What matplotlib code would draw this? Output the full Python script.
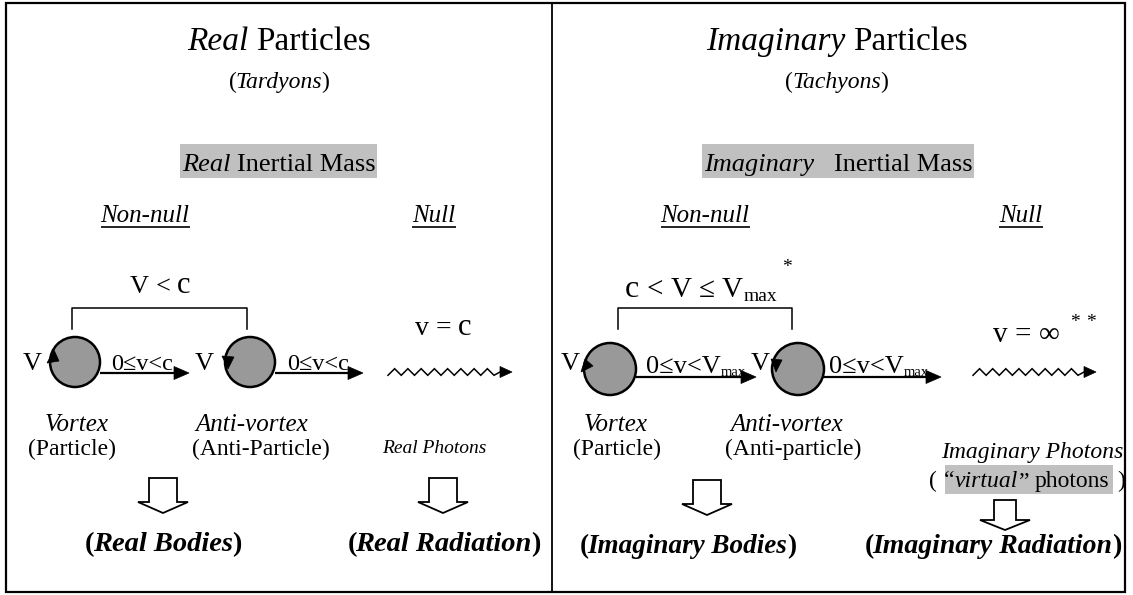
import matplotlib
matplotlib.use("Agg")
import matplotlib.pyplot as plt
from matplotlib.patches import Circle, Rectangle, Polygon
import numpy as np

W, H = 1133, 595
FONT = "Liberation Serif"

# ---- texts of the diagram ----
panel_titles = [("Real", "Particles"), ("Imaginary", "Particles")]
panel_subtitles = ["Tardyons", "Tachyons"]
mass_labels = [("Real", "Inertial Mass"), ("Imaginary", "Inertial Mass")]
class_labels = ["Non-null", "Null"]
left_speed = ("V", "<", "c")
right_speed = ("c", "<", "V", "\u2264", "V", "max")
null_speed = [("v", "=", "c"), ("v", "=", "\u221e")]
arrow_labels_left = "0\u2264v<c"
arrow_labels_right = ("0\u2264v<V", "max")
vortex_labels = ["Vortex", "Anti-vortex"]
particle_labels_left = ["(Particle)", "(Anti-Particle)"]
particle_labels_right = ["(Particle)", "(Anti-particle)"]
photon_labels = ["Real Photons", "Imaginary Photons"]
virtual_label = ("\u201c", "virtual", "\u201d", "photons")
body_labels = [("Real", "Bodies"), ("Imaginary", "Bodies")]
radiation_labels = [("Real", "Radiation"), ("Imaginary", "Radiation")]

GREY_BOX = "#c0c0c0"
CIRCLE_FILL = "#999999"

fig = plt.figure(figsize=(W / 100, H / 100), dpi=100)
ax = fig.add_axes([0, 0, 1, 1])
ax.set_xlim(0, W)
ax.set_ylim(H, 0)
ax.axis("off")
renderer = fig.canvas.get_renderer()


def px(pt):
    return pt * 100 / 72


def rich(x, y, parts, size, ha="center"):
    items = []
    for p in parts:
        if isinstance(p, (int, float)):
            items.append(("gap", p * px(size)))
            continue
        s, st = p[0], p[1]
        sz = p[2] if len(p) > 2 else size
        dy = p[3] if len(p) > 3 else 0
        t = ax.text(0, y + dy, s, fontsize=sz, family=FONT,
                    fontstyle="italic" if "i" in st else "normal",
                    fontweight="bold" if "b" in st else "normal",
                    ha="left", va="baseline", color="black")
        w = t.get_window_extent(renderer).width
        items.append((t, w))
    total = sum(w for _, w in items)
    if ha == "center":
        x0 = x - total / 2
    elif ha == "right":
        x0 = x - total
    else:
        x0 = x
    cur = x0
    for obj, w in items:
        if not isinstance(obj, str):
            obj.set_x(cur)
        cur += w
    return x0, cur


def underline_text(x, y, s, size):
    x0, x1 = rich(x, y, [(s, "i")], size)
    ax.plot([x0, x1], [y + 5, y + 5], color="black", lw=1.2, solid_capstyle="butt")


def arrow(x0, x1, y, hl=15, hw=6.5, lw=1.6):
    ax.plot([x0, x1 - hl + 1], [y, y], color="black", lw=lw, solid_capstyle="butt")
    ax.add_patch(Polygon([[x1 - hl, y - hw], [x1, y], [x1 - hl, y + hw]],
                         closed=True, facecolor="black", edgecolor="black", lw=0.5))


def wave(x0, x1, y, n, amp=3.3, hl=12, hw=5.5):
    xs = list(np.linspace(x0, x1, 2 * n + 1))
    ys = [y - amp if i % 2 else y + amp for i in range(len(xs))]
    xs.append(x1 + 6)
    ys.append(y)
    ax.plot(xs, ys, color="black", lw=1.1, solid_joinstyle="miter")
    ax.add_patch(Polygon([[x1 + 6, y - hw], [x1 + 6 + hl, y], [x1 + 6, y + hw]],
                         closed=True, facecolor="black", edgecolor="black", lw=0.5))


def hollow_arrow(xc, top, shaft_bot, tip, sh=14, hh=25):
    pts = [[xc - sh, top], [xc + sh, top], [xc + sh, shaft_bot], [xc + hh, shaft_bot],
           [xc, tip], [xc - hh, shaft_bot], [xc - sh, shaft_bot]]
    ax.add_patch(Polygon(pts, closed=True, facecolor="white", edgecolor="black",
                         lw=1.3, joinstyle="miter"))


def bracket(x0, x1, ytop, ybot):
    ax.plot([x0, x0, x1, x1], [ybot, ytop, ytop, ybot], color="black", lw=1.1)


def vortex(xc, yc, r, tri):
    ax.add_patch(Circle((xc, yc), r, facecolor=CIRCLE_FILL, edgecolor="black", lw=1.8))
    ax.add_patch(Polygon(tri, closed=True, facecolor="black", edgecolor="black", lw=0.5))


# ---- frame ----
ax.add_patch(Rectangle((6, 3), 1119, 589, fill=False, edgecolor="black", lw=1.6))
ax.plot([552, 552], [3, 592], color="black", lw=1.3)

# ================= LEFT PANEL =================
rich(279, 50, [(panel_titles[0][0], "i"), 0.25, (panel_titles[0][1], "r")], 24)
rich(279, 88, [("(", "r"), -0.04, (panel_subtitles[0], "i"), -0.02, (")", "r")], 17)
ax.add_patch(Rectangle((180, 144), 197, 34, facecolor=GREY_BOX, edgecolor="none"))
rich(279, 171, [(mass_labels[0][0], "i"), 0.25, (mass_labels[0][1], "r")], 19)
underline_text(145, 222, class_labels[0], 18)
underline_text(434, 222, class_labels[1], 18)

rich(160, 293, [(left_speed[0], "r"), 0.25, (left_speed[1], "r"), 0.25, (left_speed[2], "r", 22)], 19)
bracket(72, 247, 308, 329)

vortex(75, 362, 25, [[54, 350], [47, 363], [59, 361]])
vortex(250, 362, 25, [[228, 369], [222, 356], [234, 357]])
rich(32, 370, [("V", "r")], 19)
rich(204, 370, [("V", "r")], 19)
arrow(100, 189, 373)
arrow(275, 363, 373)
rich(142, 370, [(arrow_labels_left, "r")], 17.5)
rich(318, 370, [(arrow_labels_left, "r")], 17.5)

rich(443, 335, [(null_speed[0][0], "r"), 0.25, (null_speed[0][1], "r"), 0.25, (null_speed[0][2], "r", 22)], 20)
wave(388, 494, 372, 8)

rich(77, 431, [(vortex_labels[0], "i")], 18)
rich(72, 455, [(particle_labels_left[0], "r")], 17)
rich(252, 431, [(vortex_labels[1], "i")], 18)
rich(261, 455, [(particle_labels_left[1], "r")], 17)
rich(434, 453, [(photon_labels[0], "i")], 14)

hollow_arrow(163, 478, 502, 513)
hollow_arrow(443, 478, 502, 513)
rich(163, 551, [("(", "b"), -0.06, (" ".join(body_labels[0]), "bi"), -0.03, (")", "b")], 20.5)
rich(444, 551, [("(", "b"), -0.06, (" ".join(radiation_labels[0]), "bi"), -0.03, (")", "b")], 20.5)

# ================= RIGHT PANEL =================
rich(837, 50, [(panel_titles[1][0], "i"), 0.25, (panel_titles[1][1], "r")], 24)
rich(837, 88, [("(", "r"), -0.04, (panel_subtitles[1], "i"), -0.02, (")", "r")], 17)
ax.add_patch(Rectangle((702, 144), 272, 34, facecolor=GREY_BOX, edgecolor="none"))
rich(838, 171, [(mass_labels[1][0], "i"), 0.75, (mass_labels[1][1], "r")], 19)
underline_text(705, 222, class_labels[0], 18)
underline_text(1021, 222, class_labels[1], 18)

rich(701, 297, [(right_speed[0], "r", 23), 0.25, (right_speed[1], "r"), 0.25, (right_speed[2], "r"), 0.25,
                (right_speed[3], "r"), 0.25, (right_speed[4], "r"), 0.0, (right_speed[5], "r", 14, 4)], 21)
rich(787, 272, [("*", "r")], 14)
bracket(618, 792, 308, 329)

vortex(610, 369, 26, [[581, 372], [585, 359], [593, 366]])
vortex(798, 369, 26, [[776, 372], [771, 359], [782, 360]])
rich(570, 370, [("V", "r")], 19)
rich(760, 370, [("V", "r")], 19)
arrow(636, 756, 377)
arrow(823, 941, 377)
rich(646, 373, [(arrow_labels_right[0], "r"), 0.0, (arrow_labels_right[1], "r", 10.5, 3)], 19, ha="left")
rich(829, 373, [(arrow_labels_right[0], "r"), 0.0, (arrow_labels_right[1], "r", 10.5, 3)], 19, ha="left")

rich(1026, 342, [(null_speed[1][0], "r"), 0.25, (null_speed[1][1], "r"), 0.25, (null_speed[1][2], "r")], 21)
rich(1083, 327, [("*", "r"), 0.3, ("*", "r")], 14)
wave(973, 1078, 372, 8)

rich(616, 431, [(vortex_labels[0], "i")], 18)
rich(617, 455, [(particle_labels_right[0], "r")], 17)
rich(787, 431, [(vortex_labels[1], "i")], 18)
rich(793, 455, [(particle_labels_right[1], "r")], 17)
rich(1123, 458, [(photon_labels[1], "i")], 17, ha="right")

ax.add_patch(Rectangle((945, 465), 168, 29, facecolor=GREY_BOX, edgecolor="none"))
rich(1027, 487, [("(", "r"), 0.3, (virtual_label[0], "r"), 0.0, (virtual_label[1], "i"), 0.02,
                 (virtual_label[2], "r"), 0.25, (virtual_label[3], "r"), 0.3, (")", "r")], 17)

hollow_arrow(707, 480, 504, 515)
hollow_arrow(1005, 500, 520, 530, sh=11, hh=25)
rich(688, 553, [("(", "b"), -0.06, (" ".join(body_labels[1]), "bi"), -0.03, (")", "b")], 19.5)
rich(993, 553, [("(", "b"), -0.06, (" ".join(radiation_labels[1]), "bi"), -0.03, (")", "b")], 20)

fig.savefig("out.png", dpi=100)
